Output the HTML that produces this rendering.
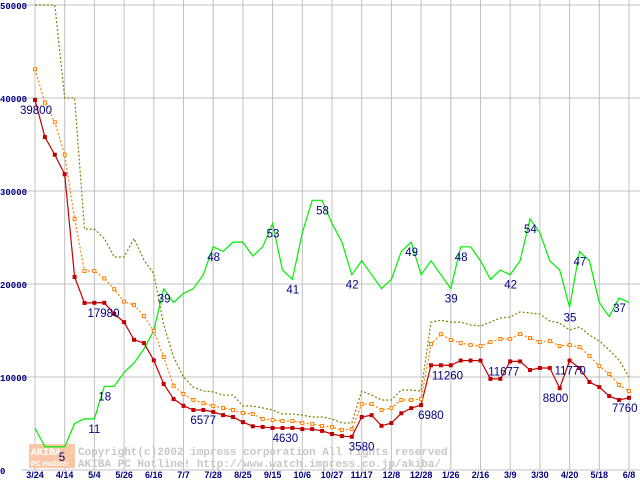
<!DOCTYPE html>
<html><head><meta charset="utf-8"><style>
html,body{margin:0;padding:0;background:#fff;}
svg{display:block;}
</style></head><body>
<svg id="chart" width="640" height="480" xmlns="http://www.w3.org/2000/svg" font-family="Liberation Sans, sans-serif">
<g id="grid"></g>
<g id="watermark">
<rect x="29" y="444" width="46" height="24" fill="#f8c8a8"/>
<text x="31" y="455" font-size="10" font-weight="bold" fill="#fff" font-family="Liberation Mono, monospace">AKIBA</text>
<text x="31" y="466" font-size="7" font-weight="bold" fill="#fff">PC Hotline!</text>
<text x="78" y="455" font-size="11" font-weight="bold" fill="#c8c8c8" font-family="Liberation Mono, monospace">Copyright(c)2002 impress corporation All rights reserved.</text>
<text x="78" y="467" font-size="11" font-weight="bold" fill="#c8c8c8" font-family="Liberation Mono, monospace">AKIBA PC Hotline!  http://www.watch.impress.co.jp/akiba/</text>
</g>
<g id="series"></g>
<g id="labels"></g>
</svg>
<script>
const xLabels=["3/24","4/14","5/4","5/26","6/16","7/7","7/28","8/25","9/15","10/6","10/27","11/17","12/8","12/28","1/26","2/16","3/9","3/30","4/20","5/18","6/8"];
const yTicks=[0,10000,20000,30000,40000,50000];
const lowPrice=[39800,35800,33900,31800,20750,17960,17980,17980,16800,15900,14000,13650,11800,9250,7630,6900,6450,6450,6250,5900,5700,5150,4700,4630,4520,4520,4520,4400,4400,4200,3870,3650,3580,5700,5900,4750,5050,6100,6650,6980,11260,11260,11260,11770,11770,11770,9800,9800,11677,11677,10750,10970,10970,8800,11770,10970,9460,8920,7950,7530,7760];
const avgPrice=[43100,39500,37400,33900,27000,21400,21400,20600,19450,18100,17750,16550,14950,12150,9050,8170,7530,7200,6880,6670,6450,6130,6020,5480,5380,5270,5270,5050,4950,4730,4620,4300,4400,7100,7100,6450,6670,7530,7530,7630,13550,14600,13980,13650,13440,13330,13760,14090,14090,14620,14190,13760,13870,13330,13440,13230,12260,11180,10320,9140,8490];
const highPrice=[50000,50000,50000,40000,40000,25900,25900,24900,22900,22900,24900,22600,21100,15600,12150,10000,8900,8500,8400,8060,8060,6880,6880,6670,6450,6020,6020,5900,5700,5700,5480,5050,5050,8490,8060,7530,7530,8600,8600,8490,15900,16100,15900,15900,15600,15480,15900,16340,16450,17000,16880,16770,16020,15800,15050,15380,14520,13870,12900,11830,10000];
const shopCount=[9,5,5,5,10,11,11,18,18,21,23,26,30,39,36,38,39,42,48,47,49,49,46,48,53,43,41,51,58,58,53,49,42,45,42,39,41,47,49,42,45,42,39,48,48,45,41,43,42,45,54,51,45,43,35,47,45,36,33,37,36];
const priceLabelIdx=[0,5,16,24,32,39,41,48,53,54,60];
const priceLabelVal=[39800,17980,6577,4630,3580,6980,11260,11677,8800,11770,7760];
const countLabelIdx=[3,6,7,13,18,24,26,29,32,38,42,43,48,50,54,55,59];
const countLabelVal=[5,11,18,39,48,53,41,58,42,49,39,48,42,54,35,47,37];
const priceLabelDx=[-15,3,-3,0,-3,-3,-9,-22,-17,-15,-17];
const NS="http://www.w3.org/2000/svg";
function X(k){return 35+k*9.9;}
function Y(v){return 470-v*0.0093;}
function mk(tag,attrs,parent,text){const e=document.createElementNS(NS,tag);for(const a in attrs)e.setAttribute(a,attrs[a]);if(text!==undefined)e.textContent=text;parent.appendChild(e);return e;}
const grid=document.getElementById('grid'),ser=document.getElementById('series'),lab=document.getElementById('labels');
yTicks.forEach(v=>{
 const l=mk('line',{x1:22,x2:640,y1:Y(v),y2:Y(v),stroke:'#c0c0c0','stroke-width':1},grid);
 
 
 const t=mk('text',{x:0,y:Y(v)+4,'font-size':9,'font-weight':'bold',fill:'#000080','font-family':'Liberation Mono, monospace'},grid,String(v));
 
 
});
xLabels.forEach((s,i)=>{
 const k=i*3;
 const l=mk('line',{x1:X(k),x2:X(k),y1:0,y2:470,stroke:'#c0c0c0','stroke-width':1},grid);
 
 
 const t=mk('text',{x:X(k),y:478,'font-size':9,'font-weight':'bold',fill:'#000080','text-anchor':'middle'},grid,s);
 
 
});
function line(arr,f,color,dash,name){
 const p=mk('polyline',{points:arr.map((v,k)=>X(k)+','+Y(f(v))).join(' '),fill:'none',stroke:color,'stroke-width':1.2,'stroke-dasharray':dash||''},ser);
 
 
}
line(highPrice,v=>v,'#808000','2,2','high-price-line');
line(shopCount,v=>v*500,'#00ee00','', 'shop-count-line');
line(avgPrice,v=>v,'#ff8000','2,2','avg-price-line');
line(lowPrice,v=>v,'#c00000','','low-price-line');
avgPrice.forEach((v,k)=>{
 const r=mk('rect',{x:X(k)-1.5,y:Y(v)-1.5,width:3,height:3,fill:'#fff',stroke:'#ff8000','stroke-width':1},ser);
 
 
});
lowPrice.forEach((v,k)=>{
 const r=mk('rect',{x:X(k)-2,y:Y(v)-2,width:4,height:4,fill:'#c00000'},ser);
 
 
});
priceLabelIdx.forEach((k,i)=>{
 const v=priceLabelVal[i];
 const t=mk('text',{x:X(k)+priceLabelDx[i],y:Y(lowPrice[k])+14,'font-size':11.5,fill:'#000080'},lab,String(v));
 
 
});
countLabelIdx.forEach((k,i)=>{
 const v=countLabelVal[i];
 const t=mk('text',{x:X(k)-6,y:Y(shopCount[k]*500)+14,'font-size':11.5,fill:'#000080'},lab,String(v));
 
 
});
</script>
</body></html>
